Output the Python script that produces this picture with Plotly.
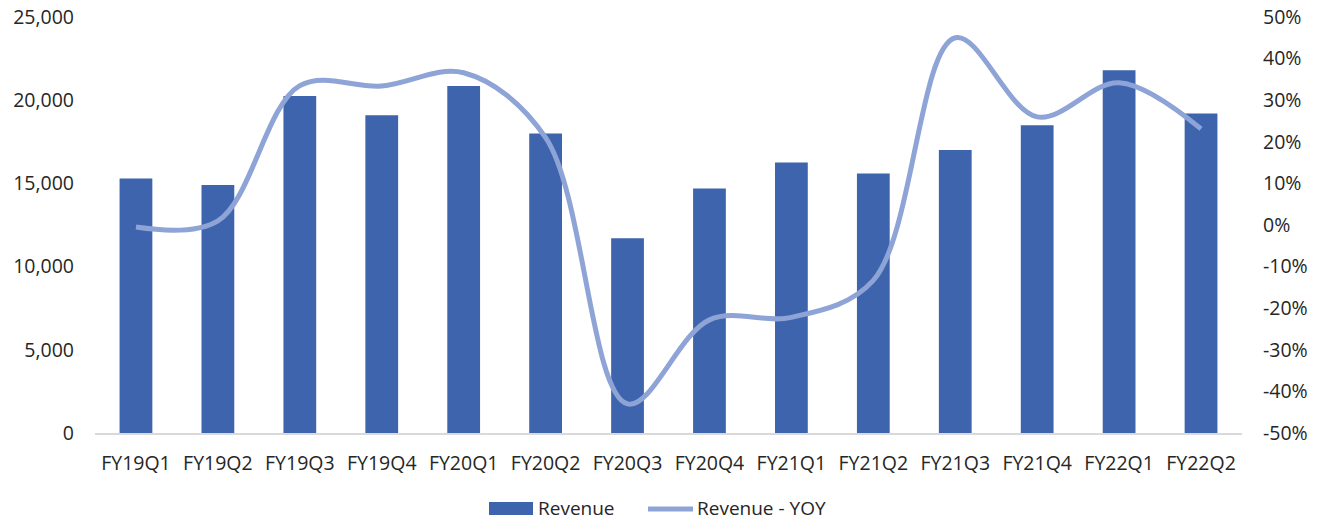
import plotly.graph_objects as go

# Quarterly revenue and year-over-year growth
quarters = ["FY19Q1", "FY19Q2", "FY19Q3", "FY19Q4", "FY20Q1", "FY20Q2", "FY20Q3",
            "FY20Q4", "FY21Q1", "FY21Q2", "FY21Q3", "FY21Q4", "FY22Q1", "FY22Q2"]
revenue = [15300, 14900, 20250, 19100, 20850, 18000, 11700,
           14700, 16250, 15600, 17000, 18500, 21800, 19200]
revenue_yoy = [-0.005, 0.01, 0.335, 0.334, 0.366, 0.21, -0.43,
               -0.228, -0.222, -0.133, 0.45, 0.26, 0.342, 0.231]

left_ticks = [0, 5000, 10000, 15000, 20000, 25000]
right_ticks = [-0.5, -0.4, -0.3, -0.2, -0.1, 0, 0.1, 0.2, 0.3, 0.4, 0.5]
right_tick_labels = ["-50%", "-40%", "-30%", "-20%", "-10%", "0%",
                     "10%", "20%", "30%", "40%", "50%"]

BAR_COLOR = "#3D64AD"
LINE_COLOR = "#8EA3D6"
TEXT_COLOR = "#262626"
FONT = "Open Sans"
FONT_SIZE = 19.5
LEGEND_FONT_SIZE = 19

W, H = 1329, 521
L, R, T, B = 95, 87, 17, 88

fig = go.Figure()
fig.add_trace(go.Bar(
    x=quarters, y=revenue, name="Revenue",
    marker=dict(color=BAR_COLOR, line=dict(width=0)),
    width=0.4, yaxis="y", showlegend=False,
))
fig.add_trace(go.Scatter(
    x=quarters, y=revenue_yoy, name="Revenue - YOY", mode="lines",
    line=dict(color=LINE_COLOR, width=5, shape="spline", smoothing=1.0),
    yaxis="y2", showlegend=False,
))

# Legend drawn below the axis, positioned in pixel terms of the plot area
pw, ph = W - L - R, H - T - B


def px_x(px):
    return (px - L) / pw


def px_y(py):
    return (H - B - py) / ph


shapes = [
    dict(type="rect", xref="paper", yref="paper",
         x0=px_x(489), x1=px_x(533), y0=px_y(515), y1=px_y(502),
         fillcolor=BAR_COLOR, line=dict(width=0)),
    dict(type="line", xref="paper", yref="paper",
         x0=px_x(648), x1=px_x(693), y0=px_y(509), y1=px_y(509),
         line=dict(color=LINE_COLOR, width=5)),
]
annotations = [
    dict(text="Revenue", xref="paper", yref="paper", x=px_x(537), y=px_y(507.5),
         xanchor="left", yanchor="middle", showarrow=False, borderpad=0,
         font=dict(family=FONT, size=LEGEND_FONT_SIZE, color=TEXT_COLOR)),
    dict(text="Revenue - YOY", xref="paper", yref="paper", x=px_x(696), y=px_y(507.5),
         xanchor="left", yanchor="middle", showarrow=False, borderpad=0,
         font=dict(family=FONT, size=LEGEND_FONT_SIZE, color=TEXT_COLOR)),
]

fig.update_layout(
    width=W, height=H,
    margin=dict(l=L, r=R, t=T, b=B, autoexpand=False),
    paper_bgcolor="white", plot_bgcolor="white",
    font=dict(family=FONT, size=FONT_SIZE, color=TEXT_COLOR),
    xaxis=dict(
        showgrid=False, showline=True, linecolor="#D9D9D9", linewidth=1.5,
        ticks="", ticklabelstandoff=12, zeroline=False, automargin=False,
    ),
    yaxis=dict(
        range=[0, 25000], tickvals=left_ticks, tickformat=",",
        showgrid=False, zeroline=False, showline=False, ticks="",
        ticklabelstandoff=20, automargin=False,
    ),
    yaxis2=dict(
        range=[-0.5, 0.5], tickvals=right_ticks, ticktext=right_tick_labels,
        overlaying="y", side="right",
        showgrid=False, zeroline=False, showline=False, ticks="",
        ticklabelstandoff=20, automargin=False,
    ),
    shapes=shapes,
    annotations=annotations,
    showlegend=False,
)

fig.write_html("out.html")
